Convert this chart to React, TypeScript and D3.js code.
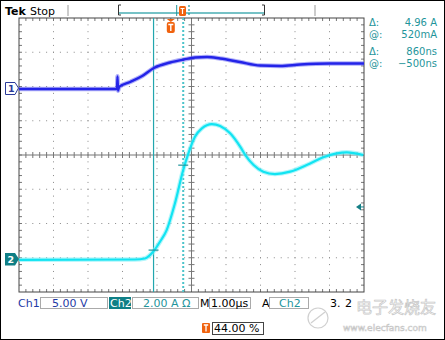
import React from 'react';
import * as d3 from 'd3';

// time in µs relative to trigger
const timeDomain = [-4.4, 5.6];
// Ch1 voltage (V)
const ch1T = [-4.4, -1.56, -1.545, -1.53, -1.5, -1.18, -0.83, -0.49, -0.02, 0.38, 0.7, 1.05, 1.43, 2.0, 2.59, 3.17, 3.75, 4.61, 5.6];
const ch1V = [-0.15, -0.15, 1.7, -0.4, 0.15, 0.88, 1.75, 2.92, 3.72, 4.16, 4.45, 4.53, 4.31, 3.8, 3.28, 3.21, 3.43, 3.58, 3.58];
// Ch2 current (A)
const ch2T = [-4.4, -1.04, -0.75, -0.5, -0.3, -0.12, 0.12, 0.36, 0.51, 0.7, 0.9, 1.19, 1.43, 1.72, 2.01, 2.16, 2.4, 2.68, 3.02, 3.46, 3.94, 4.42, 4.81, 5.1, 5.58];
const ch2I = [-0.05, -0.03, 0.03, 0.45, 1.05, 1.69, 3.25, 5.2, 6.17, 7.14, 7.63, 7.88, 7.77, 7.34, 6.56, 6.07, 5.49, 5.1, 4.96, 5.1, 5.49, 5.94, 6.17, 6.23, 6.07];

const cursorT = [-0.5, 0.36];
const cursorI = [0.52, 5.48];
const triggerLevel = 3.04;

const readoutLabels = ['Δ:', '@:', 'Δ:', '@:'];
const readoutValues = ['4.96 A', '520mA', '860ns', '−500ns'];

const X0 = 19, X1 = 364, Y0 = 18, Y1 = 292;
const FONT = 'DejaVu Sans, sans-serif';
const TEAL = '#1f959b';
const CYAN = '#12e4f2';
const BLUE = '#2424e8';

export default function App() {
  const gx = d3.scaleLinear().domain([0, 10]).range([X0, X1]);
  const gy = d3.scaleLinear().domain([0, 8]).range([Y0, Y1]);
  const x = d3.scaleLinear().domain(timeDomain).range([X0, X1]);
  const divY = (Y1 - Y0) / 8;
  const y1 = d3.scaleLinear().domain([0, 5]).range([88, 88 - divY]);
  const y2 = d3.scaleLinear().domain([0, 2]).range([259, 259 - divY]);

  const line1 = d3.line<number>().x((_, i) => x(ch1T[i])).y((d) => y1(d)).curve(d3.curveMonotoneX);
  const line2 = d3.line<number>().x((_, i) => x(ch2T[i])).y((d) => y2(d)).curve(d3.curveMonotoneX);

  const dots: JSX.Element[] = [];
  for (let i = 1; i < 10; i++) {
    if (i === 5) continue;
    for (let j = 1; j < 40; j++) {
      dots.push(<rect key={`v${i}-${j}`} x={gx(i) - 0.5} y={gy(j / 5) - 0.5} width={1} height={1} fill="#8a8a8a" />);
    }
  }
  for (let k = 1; k < 8; k++) {
    if (k === 4) continue;
    for (let m = 1; m < 50; m++) {
      dots.push(<rect key={`h${k}-${m}`} x={gx(m / 5) - 0.5} y={gy(k) - 0.5} width={1} height={1} fill="#8a8a8a" />);
    }
  }
  const ticks: JSX.Element[] = [];
  for (let m = 1; m < 50; m++) {
    const px = gx(m / 5);
    ticks.push(<line key={`tc${m}`} x1={px} x2={px} y1={gy(4) - 3} y2={gy(4) + 3} stroke="#777" />);
    ticks.push(<line key={`tt${m}`} x1={px} x2={px} y1={Y0} y2={Y0 + 3} stroke="#777" />);
    ticks.push(<line key={`tb${m}`} x1={px} x2={px} y1={Y1 - 3} y2={Y1} stroke="#777" />);
  }
  for (let j = 1; j < 40; j++) {
    const py = gy(j / 5);
    ticks.push(<line key={`vc${j}`} x1={gx(5) - 3} x2={gx(5) + 3} y1={py} y2={py} stroke="#777" />);
    ticks.push(<line key={`vl${j}`} x1={X0} x2={X0 + 3} y1={py} y2={py} stroke="#777" />);
    ticks.push(<line key={`vr${j}`} x1={X1 - 3} x2={X1} y1={py} y2={py} stroke="#777" />);
  }

  const c1 = x(cursorT[0]);
  const c2 = x(cursorT[1]);
  const trigX = x(0);
  const tl = y2(triggerLevel);

  return (
    <svg width={445} height={340} style={{ position: 'absolute', left: 0, top: 0, background: '#fff' }} fontFamily={FONT}>
      <rect x={0.5} y={0.5} width={444} height={339} fill="#fff" stroke="#000" />
      {/* header */}
      <text x={5} y={15} fontSize={11} fontWeight="bold" fill="#000">Tek</text>
      <text x={30} y={15} fontSize={11} fill="#000">Stop</text>
      <line x1={68} x2={68} y1={5} y2={16} stroke="#999" />
      <line x1={315} x2={315} y1={5} y2={16} stroke="#999" />
      <line x1={119} x2={265} y1={13} y2={13} stroke="#49aeb3" strokeWidth={1.5} />
      <path d="M121,5 H118.5 V15 H121" fill="none" stroke="#333" />
      <path d="M262,5 H264.5 V15 H262" fill="none" stroke="#333" />
      <line x1={176.7} x2={176.7} y1={5} y2={16} stroke={TEAL} />
      <line x1={189} x2={189} y1={5} y2={16} stroke={TEAL} strokeDasharray="2 2" strokeWidth={1.2} />
      <rect x={179} y={6} width={7} height={10} rx={1.5} fill="#f0620e" />
      <path d="M180.5,8.5 H184.5 M182.5,8.5 V14" stroke="#fff" strokeWidth={1.2} />

      {/* graticule */}
      {dots}
      <line x1={X0} x2={X1} y1={gy(4)} y2={gy(4)} stroke="#777" />
      <line x1={gx(5)} x2={gx(5)} y1={Y0} y2={Y1} stroke="#777" />
      {ticks}
      <rect x={X0} y={Y0} width={X1 - X0} height={Y1 - Y0} fill="none" stroke="#444" />

      {/* cursors */}
      <line x1={c1} x2={c1} y1={Y0} y2={Y1} stroke="#22a6ae" strokeWidth={1.2} />
      <line x1={c2} x2={c2} y1={Y0} y2={Y1} stroke="#4cc4ca" strokeWidth={2} strokeDasharray="2 2" />

      {/* traces */}
      <path d={line1(ch1V) ?? ''} fill="none" stroke="#6f6ff4" strokeWidth={4.5} strokeOpacity={0.55} />
      <path d={line1(ch1V) ?? ''} fill="none" stroke={BLUE} strokeWidth={2.4} />
      <path d={line2(ch2I) ?? ''} fill="none" stroke="#7ff0f8" strokeWidth={4.5} strokeOpacity={0.6} />
      <path d={line2(ch2I) ?? ''} fill="none" stroke={CYAN} strokeWidth={2.2} />

      {/* horizontal cursor marks */}
      <line x1={c1 - 5} x2={c1 + 5} y1={y2(cursorI[0])} y2={y2(cursorI[0])} stroke={TEAL} strokeWidth={1.2} />
      <line x1={c2 - 5} x2={c2 + 5} y1={y2(cursorI[1])} y2={y2(cursorI[1])} stroke={TEAL} strokeWidth={1.2} />

      {/* trigger position marker */}
      <path d={`M${trigX - 4},19 L${trigX + 4},19 L${trigX},22 Z`} fill="#f0620e" />
      <rect x={trigX - 4} y={22} width={8} height={11} rx={2} fill="#f0620e" />
      <path d={`M${trigX - 2.5},24.5 H${trigX + 2.5} M${trigX},24.5 V31`} stroke="#fff" strokeWidth={1.4} />

      {/* trigger level marker */}
      <path d={`M356,${tl} L361,${tl - 3.5} L361,${tl + 3.5} Z`} fill="#157f86" />
      <line x1={360} x2={364} y1={tl} y2={tl} stroke="#157f86" />

      {/* channel markers */}
      <path d="M5.5,82.5 H15 L18.5,88 L15,94.5 H5.5 Z" fill="#fff" stroke="#2a3a9a" />
      <text x={8} y={92} fontSize={9.5} fontWeight="bold" fill="#2a3a9a">1</text>
      <path d="M5,253 H15 L19,259 L15,265.5 H5 Z" fill="#0f7f86" />
      <text x={7.5} y={263} fontSize={9.5} fontWeight="bold" fill="#fff">2</text>

      {/* readouts */}
      {readoutLabels.map((l, i) => {
        const yy = [26, 38, 55, 67][i];
        return (
          <g key={i}>
            <text x={369} y={yy} fontSize={10} fill={TEAL}>{l}</text>
            <text x={437} y={yy} fontSize={10} fill={TEAL} textAnchor="end">{readoutValues[i]}</text>
          </g>
        );
      })}

      {/* bottom status */}
      <text x={18} y={307} fontSize={11} fill="#1f3aa6">Ch1</text>
      <rect x={40.5} y={297.5} width={67} height={11} fill="none" stroke="#aaa" />
      <text x={52} y={307} fontSize={11} fill="#1f3aa6">5.00 V</text>
      <rect x={109} y={297} width={22} height={12} fill="#0f7f86" />
      <text x={110} y={307} fontSize={11} fill="#fff">Ch2</text>
      <rect x={132.5} y={297.5} width={66} height={11} fill="none" stroke="#aaa" />
      <text x={143} y={307} fontSize={11} fill={TEAL}>2.00 A Ω</text>
      <text x={200} y={307} fontSize={11} fill="#000">M</text>
      <rect x={209.5} y={297.5} width={41} height={11} fill="none" stroke="#aaa" />
      <text x={211} y={307} fontSize={11} fill="#000">1.00µs</text>
      <text x={262} y={307} fontSize={11} fill="#000">A</text>
      <rect x={269.5} y={297.5} width={39} height={11} fill="none" stroke="#aaa" />
      <text x={279} y={307} fontSize={11} fill={TEAL}>Ch2</text>
      <text x={330} y={307} fontSize={11} fill="#000">3.</text>
      <text x={345} y={307} fontSize={11} fill="#000">2</text>

      <rect x={202} y={323} width={8} height={10} rx={1} fill="#f0620e" />
      <path d="M203.8,325 H208.2 M206,325 V331.5" stroke="#fff" strokeWidth={1.3} />
      <rect x={212.5} y={322.5} width={51} height={12} fill="none" stroke="#444" />
      <text x={214} y={332} fontSize={11} fill="#000">44.00 %</text>

      {/* watermark */}
      <g opacity={0.55}>
        <circle cx={318} cy={318} r={10} fill="none" stroke="#aaa" strokeWidth={1.2} />
        <path d="M311,323 L325,312" stroke="#aaa" strokeWidth={1.2} />
        <text x={356} y={313} fontSize={16} fontFamily="Noto Sans CJK SC" fill="#fff" stroke="#999" strokeWidth={0.7}>电子发烧友</text>
        <text x={343} y={331} fontSize={9} fill="#fff" stroke="#999" strokeWidth={0.6}>www.elecfans.com</text>
      </g>
    </svg>
  );
}
